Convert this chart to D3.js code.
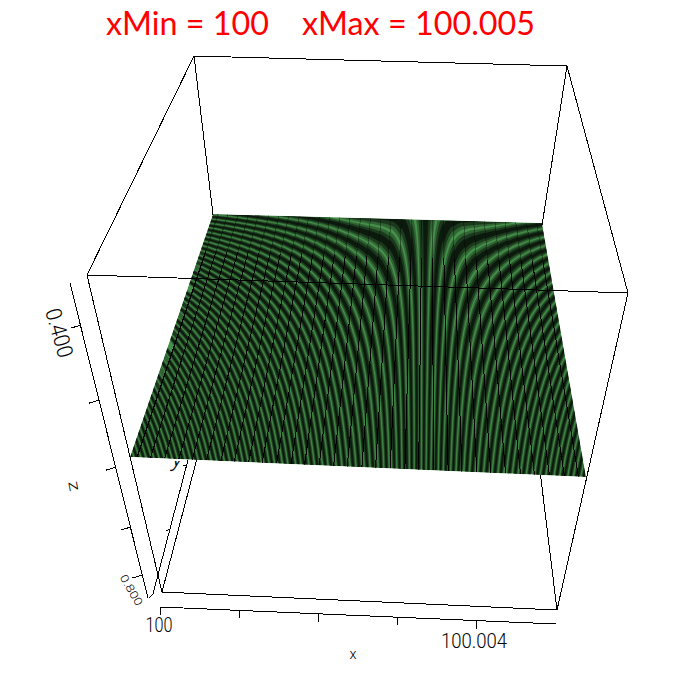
<!DOCTYPE html>
<html><head><meta charset="utf-8">
<script src="https://cdnjs.cloudflare.com/ajax/libs/d3/7.8.5/d3.min.js"></script>
<style>html,body{margin:0;padding:0;background:#fff}svg{display:block}
.hw{font-family:"Roboto","Liberation Sans",sans-serif;font-weight:300;fill:#000}</style>
</head><body><svg id="c" width="692" height="677"></svg>
<script>
// ---- data ----
const titleText = "xMin = 100    xMax = 100.005";
const xDomain = [100, 100.005];
const xTicks = [100, 100.001, 100.002, 100.003, 100.004];
const xTickLabels = ["100", "", "", "", "100.004"];
const zTicks = [0.4, 0.5, 0.6, 0.7, 0.8];
const yTicks = [0.2, 0.4];
const patternCentreX = 100.00325;
// straight mesh lines on the surface (x value)
const meshX = [100.00008,100.00023,100.00039,100.00055,100.00070,100.00086,100.00102,100.00117,100.00133,100.00148,100.00164,100.00180,100.00195,100.00211,100.00227,100.00242,100.00258,100.00273,100.00289,100.00305,100.00320,100.00336,100.00352,100.00367,100.00383,100.00398,100.00414,100.00430,100.00445,100.00461,100.00477,100.00492];
// dark shading bands: offset from the centre where each band meets the front edge (1e-6 x units)
const bandsLeft = [0,72,144,216,288,360,432,504,576,648,720,792,864,936,1008,1080,1152,1224,1296,1368,1440,1512,1584,1656,1728,1800,1872,1944,2016,2088,2160,2232,2304,2376,2448,2520,2592,2664,2736,2808,2880,2952,3024,3096,3168,3240,3312];
const bandsRight = [72,144,216,288,360,432,504,576,648,720,792,864,936,1008,1080,1152,1224,1296,1368,1440,1512,1584,1656,1728,1800];

// ---- layout ----
const svg = d3.select("#c");
const frame = { // projected box corners, in page pixels
  tbl:[194,56], tbr:[567,66], tfl:[87,275], tfr:[628,293],
  bbl:[228,340], bbr:[524,340], bfl:[162,592], bfr:[557,610]
};
const quad = [[213,214],[542,223],[586,477],[130,457]]; // surface corners
const GREEN = "#45904a";

function homography(q){
  const [[x0,y0],[x1,y1],[x2,y2],[x3,y3]] = q;
  const sx=x0-x1+x2-x3, sy=y0-y1+y2-y3, dx1=x1-x2, dx2=x3-x2, dy1=y1-y2, dy2=y3-y2;
  const den=dx1*dy2-dx2*dy1;
  const g=(sx*dy2-dx2*sy)/den, h=(dx1*sy-sx*dy1)/den;
  const a=x1-x0+g*x1, b=x3-x0+h*x3, d=y1-y0+g*y1, e=y3-y0+h*y3;
  return (u,v)=>{const w=g*u+h*v+1;return [(a*u+b*v+x0)/w,(d*u+e*v+y0)/w];};
}
const planeXY = homography(quad);
const xU = d3.scaleLinear().domain(xDomain).range([0,1]);
const line = d3.line();

const gFrameBack = svg.append("g").attr("fill","none").attr("stroke","#000").attr("shape-rendering","crispEdges");
const seg=(g,a,b)=>g.append("path").attr("d",line([a,b]));
[["tfl","tbl"],["tbl","tbr"],["tbr","tfr"],["tbl","bbl"],["tbr","bbr"],["tfl","bfl"],["tfr","bfr"],["bfl","bfr"],["bfl","bbl"],["bfr","bbr"],["bbl","bbr"]]
  .forEach(([a,b])=>seg(gFrameBack,frame[a],frame[b]));

// x axis
const xAxisPx = d3.scaleLinear().domain(xDomain).range([160,556]);
const xAxisPy = d3.scaleLinear().domain(xDomain).range([607,624]);
const gAxes = svg.append("g").attr("fill","none").attr("stroke","#000").attr("shape-rendering","crispEdges");
seg(gAxes,[xAxisPx(xDomain[0]),xAxisPy(xDomain[0])],[xAxisPx(xDomain[1]),xAxisPy(xDomain[1])]);
xTicks.forEach(t=>seg(gAxes,[xAxisPx(t),xAxisPy(t)],[xAxisPx(t),xAxisPy(t)+8]));

// z axis
const zT = d3.scaleLinear().domain([0.36,0.4,0.5,0.6,0.7,0.8,0.82]).range([0,0.134,0.372,0.585,0.775,0.927,1]);
const zP = z=>{const t=zT(z);return [70+78*t,283+315*t];};
seg(gAxes,zP(0.36),zP(0.82));
zTicks.forEach(z=>{const p=zP(z);seg(gAxes,p,[p[0]-10,p[1]+3]);});
// y axis
const yP = y=>[153+84*y,594-322*y];
seg(gAxes,[149,598],yP(0)); seg(gAxes,yP(0),yP(0.4167));
yTicks.forEach(y=>{const p=yP(y);seg(gAxes,p,[p[0]-4,p[1]+1]);});

// axis text
const hw=(str,x,y,size,tf,len)=>{
  const t=svg.append("text").attr("class","hw").attr("font-size",size).attr("text-anchor","middle")
    .attr("transform",`translate(${x},${y}) ${tf||""}`).text(str);
  if(len) t.attr("textLength",len).attr("lengthAdjust","spacingAndGlyphs");
  return t;
};
xTicks.forEach((t,i)=>{ if(!xTickLabels[i]) return;
  hw(xTickLabels[i], i? 474:159, i?648:632, 20,"",i?66:27);
});
hw("x",353,659,14,"",7);
hw("0.400",52,335,20,"rotate(74) scale(1,1.1)",50);
hw("0.800",128,592,11,"rotate(60)",34);
hw("z",69,487,16,"rotate(80)",10);

const defs = svg.append("defs");
// the y title sits mostly under the surface: only its tail shows
defs.append("clipPath").attr("id","yc").append("rect").attr("x",160).attr("y",461).attr("width",20).attr("height",14);
svg.append("g").attr("clip-path","url(#yc)").append("text").attr("class","hw").attr("font-size",24)
  .attr("text-anchor","middle").attr("transform","translate(176,466) skewX(-15)").text("y");

// surface
defs.append("clipPath").attr("id","pl").append("path").attr("d",line(quad)+"Z");
const gS = svg.append("g").attr("clip-path","url(#pl)");
gS.append("path").attr("d",line(quad)+"Z").attr("fill",GREEN);

const STEEP = 1.2;  // bands run steeper inside a mesh column than across columns
const OFF_FAR = 0.08, OFF_NEAR = 0.25, OFF_W = 0.12; // spread of bands toward the back edge
const offAt = t => OFF_FAR+(OFF_NEAR-OFF_FAR)*Math.exp(-(t/OFF_W)*(t/OFF_W));
const vs = [0,.005,.01,.015,.02,.03,.04,.05,.06,.07,.08,.09,.1,.115,.13,.145,.16,.18,.2,.22,.24,.27,.3,.33,.36,.4,.44,.48,.52,.56,.6,.65,.7,.75,.8,.85,.9,.95,1];
const bandPeriod = 72e-6/0.005;
const u0 = xU(patternCentreX);
const bands = bandsLeft.map(o=>-o*1e-6/0.005).concat(bandsRight.map(o=>o*1e-6/0.005));
const edges = [0,...meshX.map(xU),1];
const layers=[[.44,.3],[.31,.42],[.16,.55]];

// distance from the centre at which a band of strength k sits at depth v
function solve(k,v){
  const s=Math.sign(k), K=Math.abs(k);
  if(K===0) return 0;
  let lo=0, hi=3;
  for(let n=0;n<22;n++){
    const m=(lo+hi)/2;
    if(m*(v+offAt(m))<K) lo=m; else hi=m;
  }
  return s*(lo+hi)/2;
}
const curves = layers.map(([frac])=>bands.map(d=>{
  const half=bandPeriod*frac, f=1+OFF_FAR;
  return {
    L:vs.map(v=>u0+solve((d-half)*f,v)),
    R:vs.map(v=>u0+solve((d+half)*f,v))
  };
}));

d3.pairs(edges).forEach(([ua,ub],ci)=>{
  const uc=(ua+ub)/2;
  const lo=uc-STEEP*(uc-ua), hi=uc+STEEP*(ub-uc);
  const cid="col"+ci;
  defs.append("clipPath").attr("id",cid).append("path")
    .attr("d",line([planeXY(ua,0),planeXY(ub,0),planeXY(ub,1),planeXY(ua,1)])+"Z");
  const gC=gS.append("g").attr("clip-path",`url(#${cid})`);
  layers.forEach(([frac,op],li)=>{
    let dStr="";
    curves[li].forEach(({L,R})=>{
      const hit=vs.map((_,i)=>Math.max(L[i],R[i])>=lo && Math.min(L[i],R[i])<=hi);
      const first=hit.indexOf(true), last=hit.lastIndexOf(true);
      if(first<0) return;
      const a=Math.max(0,first-1), b=Math.min(vs.length-1,last+1);
      const map=(arr,i)=>planeXY(uc+(arr[i]-uc)/STEEP,vs[i]);
      const left=d3.range(a,b+1).map(i=>map(L,i));
      const right=d3.range(a,b+1).map(i=>map(R,i)).reverse();
      dStr+=line(left.concat(right))+"Z";
    });
    if(dStr) gC.append("path").attr("fill","#000").attr("fill-opacity",op).attr("d",dStr);
  });
});
// mesh lines
const gM = gS.append("g").attr("fill","none").attr("stroke","#000").attr("shape-rendering","crispEdges");
meshX.forEach(x=>{
  const u=xU(x);
  gM.append("path").attr("stroke-opacity",.35).attr("d",line([planeXY(u,0),planeXY(u,.2)]));
  gM.append("path").attr("d",line([planeXY(u,.2),planeXY(u,1)]));
});
// front edge of the top of the box passes over the surface
const gTop = svg.append("g").attr("fill","none").attr("stroke","#000").attr("shape-rendering","crispEdges");
seg(gTop,frame.tfl,frame.tfr);

// title
svg.append("text").attr("x",320.5).attr("y",35).attr("text-anchor","middle")
  .attr("font-family","Lato,'Open Sans',sans-serif").attr("font-size",33).attr("fill","#ff0000")
  .style("white-space","pre").attr("textLength",429).attr("lengthAdjust","spacingAndGlyphs").text(titleText);
</script></body></html>
